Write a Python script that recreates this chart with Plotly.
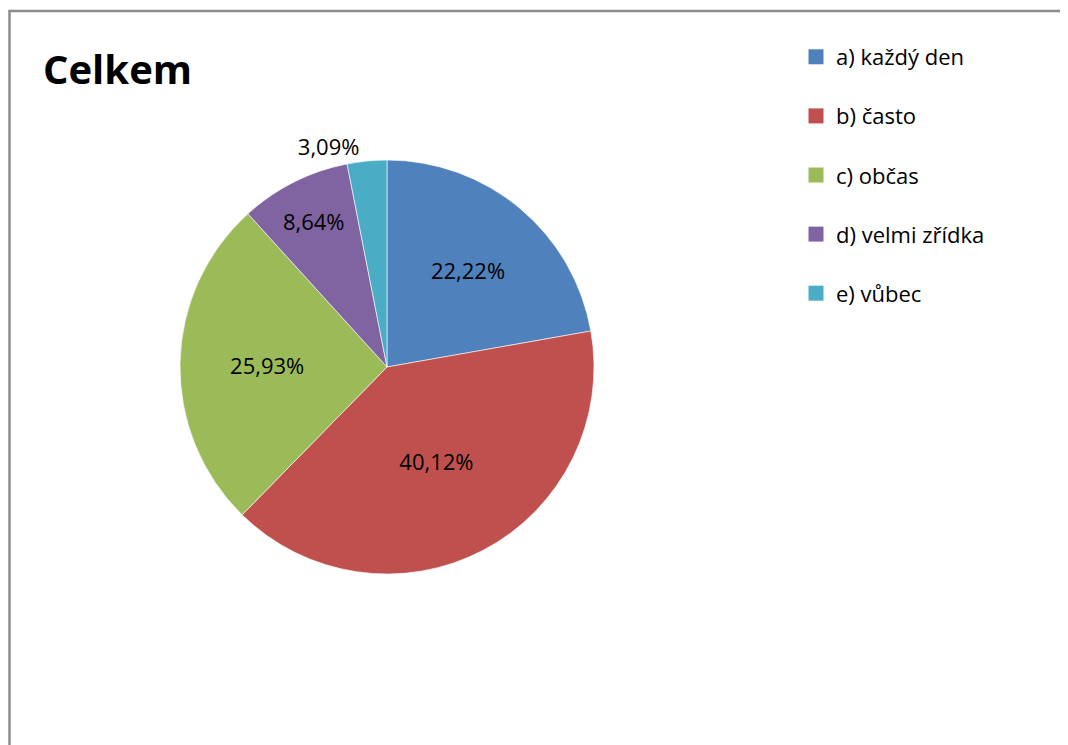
import plotly.graph_objects as go

categories = ["a) každý den", "b) často", "c) občas", "d) velmi zřídka", "e) vůbec"]
values = [22.22, 40.12, 25.93, 8.64, 3.09]
colors = ["#4F81BD", "#C0504D", "#9BBB59", "#8064A2", "#4BACC6"]
text_positions = ["inside", "inside", "inside", "inside", "outside"]

W, H = 1068, 745
OFF = 8  # page body margin of the browser
FONT = "Open Sans"


def px(x):
    return (x - OFF) / W


def py(y):
    return 1 - (y - OFF) / H


fig = go.Figure()

# pie centre / radius in screen pixels
cx, cy, r = 387, 367, 207
fig.add_trace(go.Pie(
    labels=categories,
    values=values,
    sort=False,
    direction="clockwise",
    rotation=0,
    marker=dict(colors=colors, line=dict(color="rgba(255,255,255,0.6)", width=1)),
    texttemplate="%{value:.2f}%",
    textposition=text_positions,
    insidetextorientation="horizontal",
    textfont=dict(family=FONT, size=22, color="black"),
    outsidetextfont=dict(family=FONT, size=22, color="black"),
    domain=dict(x=[px(cx - r), px(cx + r)], y=[py(cy + r), py(cy - r)]),
    showlegend=False,
    hoverinfo="label+percent",
))

# legend entries (one per category) to get Excel-like spacing
for cat, col in zip(categories, colors):
    fig.add_trace(go.Scatter(
        x=[None], y=[None], mode="markers", name=cat,
        marker=dict(symbol="square", size=15, color=col),
        legendgroup=cat, showlegend=True, hoverinfo="skip",
    ))

fig.update_layout(
    width=W, height=H,
    margin=dict(l=0, r=0, t=0, b=0),
    paper_bgcolor="white",
    plot_bgcolor="white",
    separators=", ",
    font=dict(family=FONT, size=22, color="black"),
    title=dict(text="<b>Celkem</b>", x=px(43), xanchor="left", y=py(70), yanchor="middle",
               font=dict(family=FONT, size=40, color="black")),
    legend=dict(x=px(796), xanchor="left", y=py(36), yanchor="top",
                traceorder="grouped", tracegroupgap=27.5,
                font=dict(family=FONT, size=22, color="black"),
                bgcolor="rgba(0,0,0,0)"),
    xaxis=dict(visible=False),
    yaxis=dict(visible=False),
    shapes=[dict(type="rect", xref="paper", yref="paper",
                 x0=1.5 / W, x1=1.02, y0=-0.02, y1=py(11),
                 line=dict(color="#8C8C8C", width=2.5), layer="above")],
)

fig.write_html("out.html")
